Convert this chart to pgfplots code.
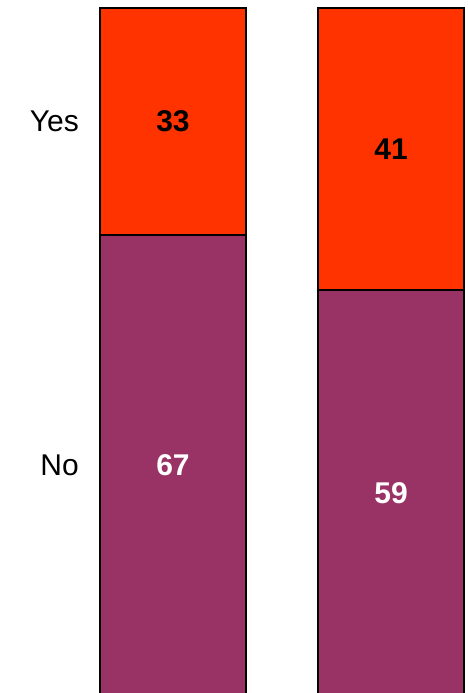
\documentclass[border=0pt]{standalone}
\usepackage{pgfplots}
\pgfplotsset{compat=1.18}
\usepackage{fontspec}
\setmainfont{Liberation Sans}
\definecolor{cyes}{HTML}{FF3300}
\definecolor{cno}{HTML}{993366}
\begin{document}
\begin{tikzpicture}
\begin{axis}[
  at={(0,-10pt)}, anchor=south west,
  width=468pt, height=703pt, scale only axis,
  hide axis,
  xmin=0, xmax=468,
  ymin=-1.017, ymax=101.16,
  ybar stacked, bar width=146,
  clip=false,
]
\addplot[fill=cno, draw=black, line width=1.5pt] coordinates {(173,67) (391,59)};
\addplot[fill=cyes, draw=black, line width=1.5pt] coordinates {(173,33) (391,41)};
\coordinate (y1) at (axis cs:173,83.5);
\coordinate (n1) at (axis cs:173,33.5);
\coordinate (y2) at (axis cs:391,79.5);
\coordinate (n2) at (axis cs:391,29.5);
\coordinate (ly) at (axis cs:79,83.5);
\coordinate (ln) at (axis cs:79,33.5);
\end{axis}
\node[font=\fontsize{30}{36}\selectfont\bfseries, text=black] at (y1) {33};
\node[font=\fontsize{30}{36}\selectfont\bfseries, text=white] at (n1) {67};
\node[font=\fontsize{30}{36}\selectfont\bfseries, text=black] at (y2) {41};
\node[font=\fontsize{30}{36}\selectfont\bfseries, text=white] at (n2) {59};
\node[font=\fontsize{30}{36}\selectfont, anchor=east, inner sep=0pt] at (ly) {Yes};
\node[font=\fontsize{30}{36}\selectfont, anchor=east, inner sep=0pt] at (ln) {No};
\pgfresetboundingbox
\path (0,0) rectangle (468pt,693pt);
\end{tikzpicture}
\end{document}
